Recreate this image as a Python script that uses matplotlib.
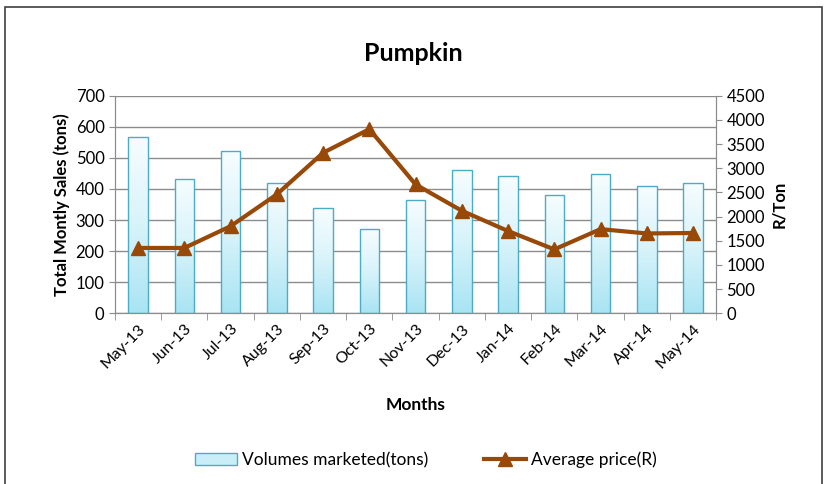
import numpy as np
import matplotlib
matplotlib.use('Agg')
from matplotlib import pyplot as plt
from matplotlib.patches import Rectangle
from matplotlib.lines import Line2D

plt.rcParams['font.family'] = ['Lato', 'DejaVu Sans']

# data
months = ['May-13', 'Jun-13', 'Jul-13', 'Aug-13', 'Sep-13', 'Oct-13', 'Nov-13',
          'Dec-13', 'Jan-14', 'Feb-14', 'Mar-14', 'Apr-14', 'May-14']
volumes = [569, 433, 521, 420, 338, 272, 366, 461, 443, 382, 448, 411, 420]
avg_price = [1350, 1350, 1800, 2460, 3320, 3810, 2665, 2120, 1700, 1320, 1740, 1650, 1660]

bar_edge = '#4bacc6'
line_col = '#984807'

fig = plt.figure(figsize=(8.27, 4.84), dpi=100)
ax = fig.add_axes([0.139, 0.353, 0.727, 0.449])
ax2 = ax.twinx()

x = np.arange(len(months))
bars = ax.bar(x, volumes, width=0.42, color='none', edgecolor=bar_edge, linewidth=1.0, zorder=3)

# vertical gradient fill for the bars
grad = np.linspace(0, 1, 256).reshape(-1, 1)
cmap = matplotlib.colors.LinearSegmentedColormap.from_list('g', ['#a9e4f3', '#d8f3fa', '#f7fdff'])
for b in bars:
    x0, w, h = b.get_x(), b.get_width(), b.get_height()
    im = ax.imshow(grad, extent=[x0, x0 + w, 0, h], origin='lower', aspect='auto',
                   cmap=cmap, zorder=2)
    im.set_clip_path(b)

ax.set_xlim(-0.5, len(months) - 0.5)
ax.set_ylim(0, 700)
ax.set_yticks(np.arange(0, 701, 100))
ax.yaxis.grid(True, color='#8c8c8c', linewidth=1.0, zorder=0)
ax.set_axisbelow(True)
ax.set_xticks(x)
ax.set_xticklabels(months, rotation=45, ha='right', rotation_mode='anchor', fontsize=11.5)
ax.tick_params(axis='y', labelsize=12, length=4, color='#8c8c8c')
ax.set_xticks(np.arange(-0.5, len(months)), minor=True)
ax.tick_params(axis='x', which='minor', length=5, color='#8c8c8c')
ax.tick_params(axis='x', which='major', length=0, pad=6)

ax2.plot(x, avg_price, color=line_col, linewidth=3, marker='^', markersize=10, zorder=4)
ax2.set_ylim(0, 4500)
ax2.set_yticks(np.arange(0, 4501, 500))
ax2.tick_params(axis='y', labelsize=12, length=4, color='#8c8c8c')

for a in (ax, ax2):
    for s in a.spines.values():
        s.set_color('#8c8c8c')
    a.spines['top'].set_visible(False)
ax.set_zorder(ax2.get_zorder() - 1)
ax2.patch.set_visible(False)

ax.set_ylabel('Total Montly Sales (tons)', fontsize=12, fontweight='bold', labelpad=4)
ax2.set_ylabel('R/Ton', fontsize=12, fontweight='bold', labelpad=4)
ax.set_xlabel('Months', fontsize=12.5, fontweight='bold', labelpad=19)
fig.text(0.5, 0.89, 'Pumpkin', ha='center', va='center', fontsize=18, fontweight='bold')

handles = [Rectangle((0, 0), 1, 1, facecolor='#c9eef8', edgecolor=bar_edge),
           Line2D([], [], color=line_col, linewidth=3, marker='^', markersize=10)]
fig.legend(handles, ['Volumes marketed(tons)', 'Average price(R)'], loc='center',
           bbox_to_anchor=(0.515, 0.05), ncol=2, frameon=False, fontsize=12.5,
           handlelength=2.4, handletextpad=0.3, columnspacing=3.2)

# outer chart border
fig.patches.append(Rectangle((0.006, -0.01), 0.988, 0.995, transform=fig.transFigure,
                             fill=False, edgecolor='#404040', linewidth=1.2))

fig.savefig('out.png', dpi=100)
